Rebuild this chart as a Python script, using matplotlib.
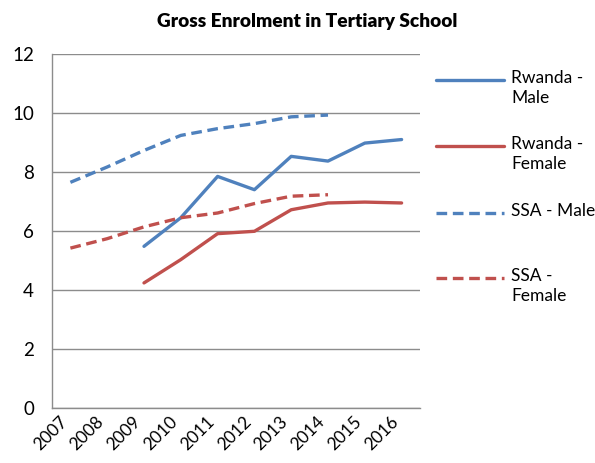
import matplotlib
matplotlib.use("Agg")
import matplotlib.pyplot as plt
from matplotlib.lines import Line2D
import numpy as np

years = ["2007", "2008", "2009", "2010", "2011", "2012", "2013", "2014", "2015", "2016"]
rwanda_male = [None, None, 5.48, 6.45, 7.85, 7.40, 8.53, 8.37, 8.98, 9.10]
rwanda_female = [None, None, 4.24, 5.03, 5.91, 5.99, 6.72, 6.95, 6.98, 6.95]
ssa_male = [7.65, 8.17, 8.73, 9.24, 9.47, 9.64, 9.87, 9.93, None, None]
ssa_female = [5.42, 5.74, 6.14, 6.45, 6.61, 6.93, 7.18, 7.23, None, None]
labels = ["Rwanda -\nMale", "Rwanda -\nFemale", "SSA - Male", "SSA -\nFemale"]
yticks = [0, 2, 4, 6, 8, 10, 12]

BLUE = "#4F81BD"
RED = "#C0504D"
FONT = "Lato"

plt.rcParams['font.family'] = [FONT, 'DejaVu Sans']

fig = plt.figure(figsize=(5.95, 4.63), dpi=100)
ax = fig.add_axes([52/595, 1-408/463, (420-52)/595, (408-54)/463])

x = np.arange(len(years))

def arr(v):
    return np.array([np.nan if a is None else a for a in v], dtype=float)

lw = 2.4
dash = (3.2, 1.7)
ax.plot(x, arr(rwanda_male), color=BLUE, lw=lw, solid_capstyle='round', zorder=3)
ax.plot(x, arr(rwanda_female), color=RED, lw=lw, solid_capstyle='round', zorder=3)
ax.plot(x, arr(ssa_male), color=BLUE, lw=lw, dashes=dash, dash_capstyle='butt', zorder=3)
ax.plot(x, arr(ssa_female), color=RED, lw=lw, dashes=dash, dash_capstyle='butt', zorder=3)

ax.set_xlim(-0.5, len(years) - 0.5)
ax.set_ylim(0, 12)
ax.set_yticks(yticks)
ax.set_yticklabels([str(t) for t in yticks], fontsize=13.5)
ax.set_xticks(x)
ax.set_xticklabels(years, fontsize=12.5, rotation=45, ha='right', va='top')
ax.tick_params(axis='both', length=0, colors='black')
ax.tick_params(axis='y', pad=13)
ax.tick_params(axis='x', pad=4)
ax.grid(axis='y', color='#8c8c8c', lw=1.0)
ax.set_axisbelow(True)
for s in ['top', 'right']:
    ax.spines[s].set_visible(False)
for s in ['left', 'bottom']:
    ax.spines[s].set_color('#8c8c8c')
    ax.spines[s].set_linewidth(1.0)

fig.text(307/595, 1-22/463, "Gross Enrolment in Tertiary School", ha='center', va='center',
         fontsize=13.8, fontweight='heavy')

# legend
styles = [(BLUE, None), (RED, None), (BLUE, dash), (RED, dash)]
ys = [80, 146, 213, 278]
for (c, d), yy, lab in zip(styles, ys, labels):
    yf = 1 - yy/463
    ln = Line2D([436/595, 504/595], [yf, yf], transform=fig.transFigure, color=c, lw=lw,
                solid_capstyle='round', dash_capstyle='butt')
    if d is not None:
        ln.set_dashes(d)
    fig.add_artist(ln)
    fig.text(511/595, 1-(yy-10)/463, lab, ha='left', va='top', fontsize=12.5, linespacing=1.3)

fig.savefig("out.png", dpi=100)
